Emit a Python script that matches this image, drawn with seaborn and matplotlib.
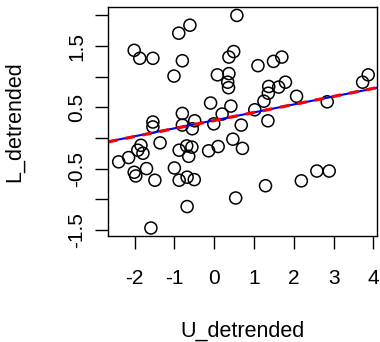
import matplotlib
matplotlib.use('Agg')
import matplotlib.pyplot as plt
import numpy as np
import pandas as pd
import seaborn as sns

# values
u_detrended = [0.57, -0.61, -0.89, -2.01, -1.87, -1.54, -0.80, 0.49, 0.37, -1.01,
               0.08, 0.37, 0.34, 0.36, -0.09, 0.42, -0.80, -0.49, 0.20, -1.54,
               -1.54, -0.80, -0.55, -0.01, 1.10, 1.49, 1.70, 1.37, 1.62, 1.79,
               1.36, 1.25, 2.07, 1.02, 2.84, 3.73, 3.87, 1.35, 0.68, 0.47,
               0.71, -1.36, -1.84, -1.92, -1.79, -2.15, -2.40, -0.88, -0.69, -0.56,
               -0.64, -0.14, 0.10, -1.70, -2.01, -1.97, -1.00, -1.49, -0.88, -0.68,
               -0.50, 0.54, -0.68, -1.59, 2.58, 2.89, 2.19, 1.29]
l_detrended = [2.00, 1.84, 1.71, 1.43, 1.30, 1.30, 1.26, 1.41, 1.32, 1.01,
               1.03, 1.05, 0.91, 0.82, 0.57, 0.52, 0.40, 0.28, 0.39, 0.26,
               0.18, 0.21, 0.15, 0.23, 1.18, 1.25, 1.32, 0.84, 0.83, 0.91,
               0.73, 0.60, 0.68, 0.46, 0.59, 0.91, 1.03, 0.28, 0.21, -0.02,
               -0.17, -0.08, -0.12, -0.20, -0.25, -0.32, -0.39, -0.20, -0.13, -0.15,
               -0.30, -0.21, -0.14, -0.50, -0.56, -0.62, -0.49, -0.69, -0.69, -0.64,
               -0.68, -0.98, -1.12, -1.47, -0.54, -0.54, -0.70, -0.78]

# fitted lines (intercept, slope)
lm_fit = (0.287, 0.130)
alt_fit = (0.285, 0.131)

x_ticks = [-2, -1, 0, 1, 2, 3, 4]
x_labels = ['-2', '-1', '0', '1', '2', '3', '4']
y_ticks = [-1.5, -1.0, -0.5, 0.0, 0.5, 1.0, 1.5, 2.0]
y_labels = ['-1.5', '', '-0.5', '', '0.5', '', '1.5', '']


def main():
    sns.set_style('ticks')
    plt.rcParams['font.family'] = ['Liberation Sans', 'DejaVu Sans']
    plt.rcParams['text.color'] = 'black'
    plt.rcParams['axes.labelcolor'] = 'black'
    plt.rcParams['xtick.color'] = 'black'
    plt.rcParams['ytick.color'] = 'black'
    df = pd.DataFrame({'U_detrended': u_detrended, 'L_detrended': l_detrended})

    fig = plt.figure(figsize=(3.8, 3.42), dpi=100)
    ax = fig.add_axes([0.284, 0.31, 0.708, 0.67])

    sns.scatterplot(data=df, x='U_detrended', y='L_detrended', ax=ax, s=75,
                    marker='o', facecolor='none', edgecolor='black', linewidth=1.1)
    ax.axline((0, lm_fit[0]), slope=lm_fit[1], color='#0000FF', lw=1.5)
    ax.axline((0, alt_fit[0]), slope=alt_fit[1], color='#FF0000', lw=2.3,
              ls=(0, (3, 2.5)))

    ax.set_xlim(-2.67, 4.09)
    ax.set_ylim(-1.60, 2.14)
    ax.set_xticks(x_ticks)
    ax.set_xticklabels(x_labels)
    ax.set_yticks(y_ticks)
    ax.set_yticklabels(y_labels, rotation=90, va='center')
    ax.tick_params(bottom=True, left=True, length=9.5, width=1, color='black',
                   labelcolor='black', labelsize=15, pad=14)
    ax.tick_params(axis='y', pad=6)
    for sp in ax.spines.values():
        sp.set_visible(True)
        sp.set_color('black')
        sp.set_linewidth(1)

    ax.set_xlabel('U_detrended', fontsize=15.5)
    ax.set_ylabel('L_detrended', fontsize=15.5)
    ax.xaxis.set_label_coords(0.5, -0.37)
    ax.yaxis.set_label_coords(-0.31, 0.5)

    fig.savefig('out.png', dpi=100)


if __name__ == '__main__':
    main()
